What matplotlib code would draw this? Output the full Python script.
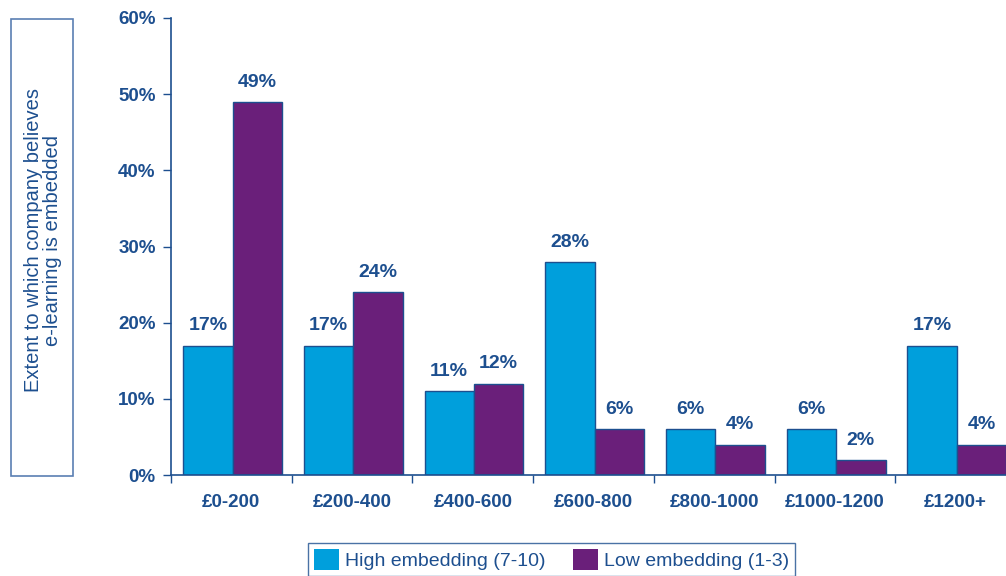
import numpy as np
import matplotlib.pyplot as plt
from matplotlib.patches import Rectangle

categories = ["£0-200", "£200-400", "£400-600", "£600-800", "£800-1000", "£1000-1200", "£1200+"]
high_embedding = [17, 17, 11, 28, 6, 6, 17]
low_embedding = [49, 24, 12, 6, 4, 2, 4]
y_ticks = [0, 10, 20, 30, 40, 50, 60]

NAVY = "#1d4f8f"
BLUE = "#009fdc"
PURPLE = "#6a1f7a"

plt.rcParams["font.family"] = ["Liberation Sans", "DejaVu Sans"]

fig = plt.figure(figsize=(10.06, 5.76), dpi=100)
ax = fig.add_axes([171 / 1006, 101 / 576, 845 / 1006, 457 / 576])

x = np.arange(len(categories))
w = 0.41
b1 = ax.bar(x - w / 2 + 0.01, high_embedding, width=w, color=BLUE,
            edgecolor=NAVY, linewidth=1, label="High embedding (7-10)")
b2 = ax.bar(x + w / 2 + 0.01, low_embedding, width=w, color=PURPLE,
            edgecolor=NAVY, linewidth=1, label="Low embedding (1-3)")

for bars, vals in ((b1, high_embedding), (b2, low_embedding)):
    for r, v in zip(bars, vals):
        ax.annotate(f"{v}%", (r.get_x() + r.get_width() / 2, v),
                    xytext=(0, 8), textcoords="offset points",
                    ha="center", va="bottom", fontsize=14,
                    fontweight="bold", color=NAVY)

ax.set_xlim(-0.5, len(categories) - 0.5)
ax.set_ylim(0, 60)
ax.set_yticks(y_ticks)
ax.set_yticklabels([f"{t}%" for t in y_ticks])
ax.set_xticks(x)
ax.set_xticklabels(categories)
ax.set_xticks(np.arange(len(categories) + 1) - 0.5, minor=True)
ax.tick_params(axis="x", which="major", length=0, pad=14)
ax.tick_params(axis="x", which="minor", length=6, direction="out",
               color=NAVY, width=1)
ax.tick_params(axis="y", length=6, direction="out", color=NAVY, width=1, pad=5)
for lab in ax.get_xticklabels() + ax.get_yticklabels():
    lab.set_fontsize(13.5)
    lab.set_fontweight("bold")
    lab.set_color(NAVY)

for s in ("top", "right"):
    ax.spines[s].set_visible(False)
for s in ("left", "bottom"):
    ax.spines[s].set_color(NAVY)
    ax.spines[s].set_linewidth(1.2)

# y-axis title in a box
fig.patches.append(Rectangle((11 / 1006, 100 / 576), 62 / 1006, 457 / 576,
                             transform=fig.transFigure, fill=False,
                             edgecolor="#5a7fb3", linewidth=1.2))
fig.text(43 / 1006, 1 - 240 / 576,
         "Extent to which company believes\ne-learning is embedded",
         rotation=90, ha="center", va="center", fontsize=14.5,
         color=NAVY, linespacing=1.05)

leg = fig.legend(handles=[b1, b2], loc="upper left",
                 bbox_to_anchor=(308 / 1006, 1 - 543 / 576), ncol=2,
                 frameon=True, fancybox=False, fontsize=14,
                 handlelength=1.3, handleheight=1.3, handletextpad=0.3,
                 columnspacing=1.4, borderpad=0.3, borderaxespad=0)
leg.get_frame().set_edgecolor(NAVY)
leg.get_frame().set_linewidth(1)
for t in leg.get_texts():
    t.set_color(NAVY)
for h in leg.legend_handles:
    h.set_edgecolor("none")

fig.savefig("out.png", dpi=100, facecolor="white")
